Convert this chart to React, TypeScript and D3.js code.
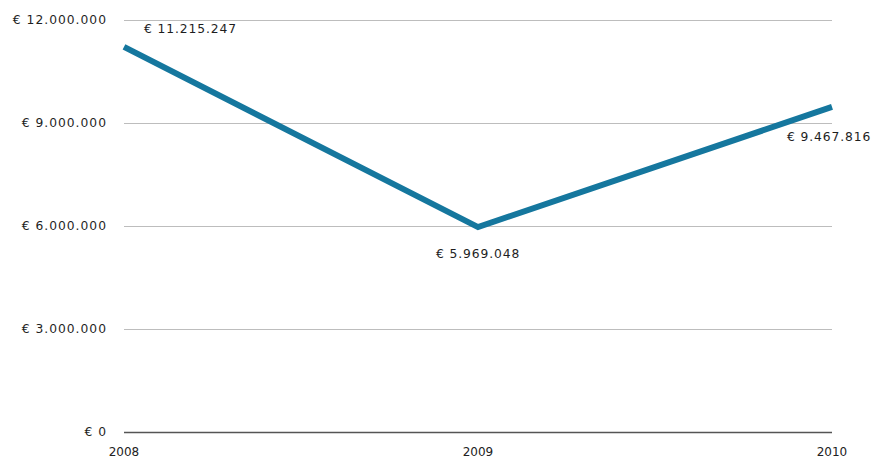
import React from "react";
import * as d3 from "d3";

const years = ["2008", "2009", "2010"];
const revenue = [11215247, 5969048, 9467816];
const yTicks = [0, 3000000, 6000000, 9000000, 12000000];

const W = 873;
const H = 459;
const margin = { left: 124, right: 41, top: 20, bottom: 27 };

const fmt = (v: number) =>
  "€ " + d3.format(",")(v).replace(/,/g, ".");

export default function App() {
  const x = d3
    .scalePoint<string>()
    .domain(years)
    .range([margin.left, W - margin.right]);
  const y = d3
    .scaleLinear()
    .domain([0, 12000000])
    .range([H - margin.bottom, margin.top]);

  const data = years.map((yr, i) => ({ yr, v: revenue[i] }));
  const line = d3
    .line<{ yr: string; v: number }>()
    .x((d) => x(d.yr)!)
    .y((d) => y(d.v));

  const labelPos = [
    { dx: 20, dy: -14, anchor: "start" },
    { dx: 0, dy: 31, anchor: "middle" },
    { dx: -3, dy: 34, anchor: "middle" },
  ];

  return (
    <svg
      width={W}
      height={H}
      style={{ position: "absolute", left: 0, top: 0, background: "#fff" }}
      fontFamily="'DejaVu Sans', Verdana, sans-serif"
    >
      {yTicks.map((t) => (
        <g key={t}>
          <line
            x1={margin.left}
            x2={W - margin.right}
            y1={Math.round(y(t)) + 0.5}
            y2={Math.round(y(t)) + 0.5}
            stroke={t === 0 ? "#555" : "#bdbdbd"}
            strokeWidth={t === 0 ? 1.5 : 1}
          />
          <text
            x={107}
            y={y(t)}
            dy="0.35em"
            textAnchor="end"
            fontSize={12.3}
            letterSpacing={1}
            fill="#1e1e1e"
          >
            {fmt(t)}
          </text>
        </g>
      ))}
      {years.map((yr) => (
        <text
          key={yr}
          x={x(yr)!}
          y={H - 3}
          textAnchor="middle"
          fontSize={12}
          fill="#222"
        >
          {yr}
        </text>
      ))}
      <path
        d={line(data)!}
        fill="none"
        stroke="#15779e"
        strokeWidth={6}
        strokeLinejoin="miter"
      />
      {data.map((d, i) => (
        <text
          key={d.yr}
          x={x(d.yr)! + labelPos[i].dx}
          y={y(d.v) + labelPos[i].dy}
          textAnchor={labelPos[i].anchor as any}
          fontSize={12.3}
          letterSpacing={0.9}
          fill="#1e1e1e"
        >
          {fmt(d.v)}
        </text>
      ))}
    </svg>
  );
}
